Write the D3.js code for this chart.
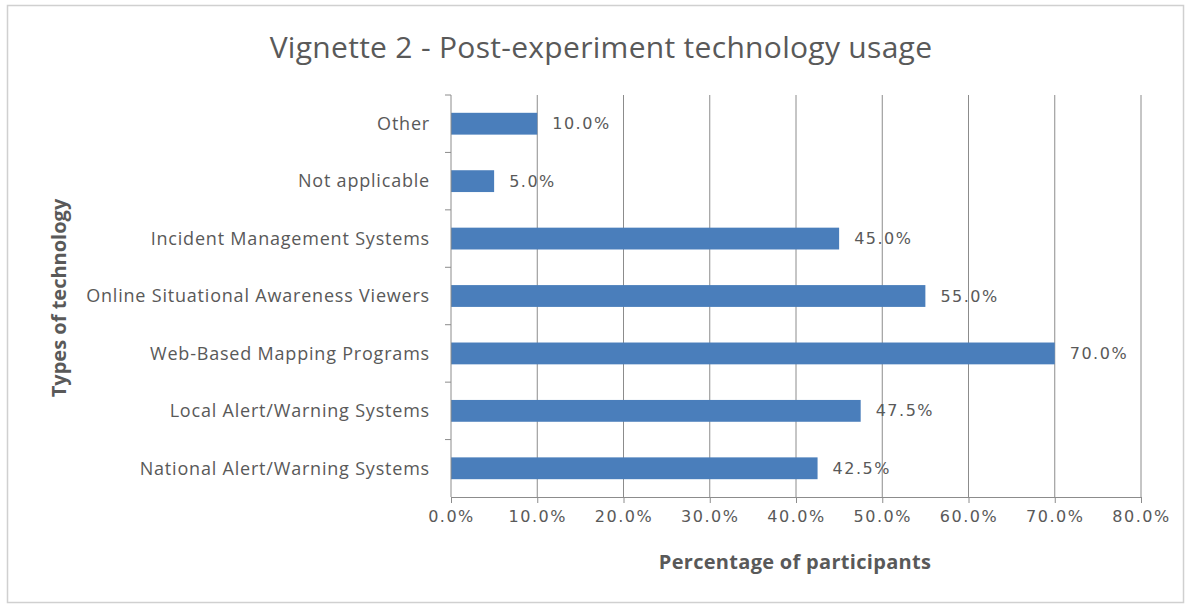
<!DOCTYPE html>
<html>
<head>
<meta charset="utf-8">
<script src="https://cdn.jsdelivr.net/npm/d3@7"></script>
<style>
  body { margin: 0; background: #fff; }
</style>
</head>
<body>
<div id="chart"></div>
<script>
// Chart data
var categories = ["Other", "Not applicable", "Incident Management Systems",
    "Online Situational Awareness Viewers", "Web-Based Mapping Programs",
    "Local Alert/Warning Systems", "National Alert/Warning Systems"];
var values = [10.0, 5.0, 45.0, 55.0, 70.0, 47.5, 42.5];
var xTicks = [0, 10, 20, 30, 40, 50, 60, 70, 80];

var svgWidth = 1190;
var svgHeight = 605;

var margin = { top: 95, right: 49, bottom: 108, left: 451 };
var width = svgWidth - margin.left - margin.right;
var height = svgHeight - margin.top - margin.bottom;

var svg = d3.select("#chart")
    .append("svg")
    .attr("width", svgWidth)
    .attr("height", svgHeight);

// outer border
svg.append("rect")
    .attr("x", 7.5).attr("y", 5.5)
    .attr("width", 1176).attr("height", 597)
    .attr("fill", "none")
    .attr("stroke", "#d0d0d0")
    .attr("stroke-width", 1.5);

var chartGroup = svg.append("g")
    .attr("transform", `translate(${margin.left}, ${margin.top})`);

var xScale = d3.scaleLinear().domain([0, 80]).range([0, width]);
var yScale = d3.scaleBand().domain(categories).range([0, height]).paddingInner(0.62).paddingOuter(0.31);

// gridlines
chartGroup.selectAll(".grid")
    .data(xTicks.slice(1))
    .enter()
    .append("line")
    .attr("x1", d => xScale(d)).attr("x2", d => xScale(d))
    .attr("y1", 0).attr("y2", height)
    .attr("stroke", "#8c8c8c")
    .attr("stroke-width", 1);

// bars
chartGroup.selectAll("rect.bar")
    .data(values)
    .enter()
    .append("rect")
    .attr("class", "bar")
    .attr("x", 0)
    .attr("y", (d, i) => yScale(categories[i]))
    .attr("width", d => xScale(d))
    .attr("height", yScale.bandwidth())
    .attr("fill", "#4a7ebb");

// x axis
var bottomAxis = d3.axisBottom(xScale)
    .tickValues(xTicks)
    .tickSize(6)
    .tickPadding(8)
    .tickFormat(d => d.toFixed(1) + "%");

var xAxis = chartGroup.append("g")
    .attr("transform", `translate(0, ${height})`)
    .call(bottomAxis);
xAxis.select(".domain").attr("stroke", "#8c8c8c");
xAxis.selectAll(".tick line").attr("stroke", "#8c8c8c");
xAxis.selectAll("text")
    .attr("font-family", "DejaVu Sans")
    .attr("font-size", "16px")
    .attr("letter-spacing", "1.5px")
    .attr("fill", "#595959");

// y axis line + ticks at category boundaries
var step = height / categories.length;
chartGroup.append("line")
    .attr("x1", 0).attr("x2", 0).attr("y1", 0).attr("y2", height)
    .attr("stroke", "#8c8c8c");
chartGroup.selectAll(".ytick")
    .data(d3.range(categories.length))
    .enter()
    .append("line")
    .attr("x1", -6).attr("x2", 0)
    .attr("y1", d => d * step).attr("y2", d => d * step)
    .attr("stroke", "#8c8c8c");

// category labels
chartGroup.selectAll(".cat")
    .data(categories)
    .enter()
    .append("text")
    .attr("x", -21)
    .attr("y", d => yScale(d) + yScale.bandwidth() / 2)
    .attr("dy", ".35em")
    .attr("text-anchor", "end")
    .attr("font-family", "Open Sans")
    .attr("font-size", "18px")
    .attr("letter-spacing", "0.8px")
    .attr("fill", "#595959")
    .text(d => d);

// value labels
chartGroup.selectAll(".val")
    .data(values)
    .enter()
    .append("text")
    .attr("x", d => xScale(d) + 15)
    .attr("y", (d, i) => yScale(categories[i]) + yScale.bandwidth() / 2)
    .attr("dy", ".35em")
    .attr("font-family", "DejaVu Sans")
    .attr("font-size", "16px")
    .attr("letter-spacing", "1.5px")
    .attr("fill", "#595959")
    .text(d => d.toFixed(1) + "%");

// title
svg.append("text")
    .attr("x", 601).attr("y", 58)
    .attr("text-anchor", "middle")
    .attr("font-family", "Open Sans")
    .attr("font-size", "30px")
    .attr("letter-spacing", "0.3px")
    .attr("fill", "#595959")
    .text("Vignette 2 - Post-experiment  technology usage");

// axis titles
svg.append("text")
    .attr("x", 795).attr("y", 569)
    .attr("text-anchor", "middle")
    .attr("font-family", "Open Sans")
    .attr("font-size", "20px")
    .attr("letter-spacing", "0.3px")
    .attr("font-weight", "700")
    .attr("fill", "#595959")
    .text("Percentage of participants");

svg.append("text")
    .attr("transform", "translate(66, 298) rotate(-90)")
    .attr("text-anchor", "middle")
    .attr("font-family", "Open Sans")
    .attr("font-size", "20px")
    .attr("font-weight", "700")
    .attr("fill", "#595959")
    .text("Types of technology");
</script>
</body>
</html>
